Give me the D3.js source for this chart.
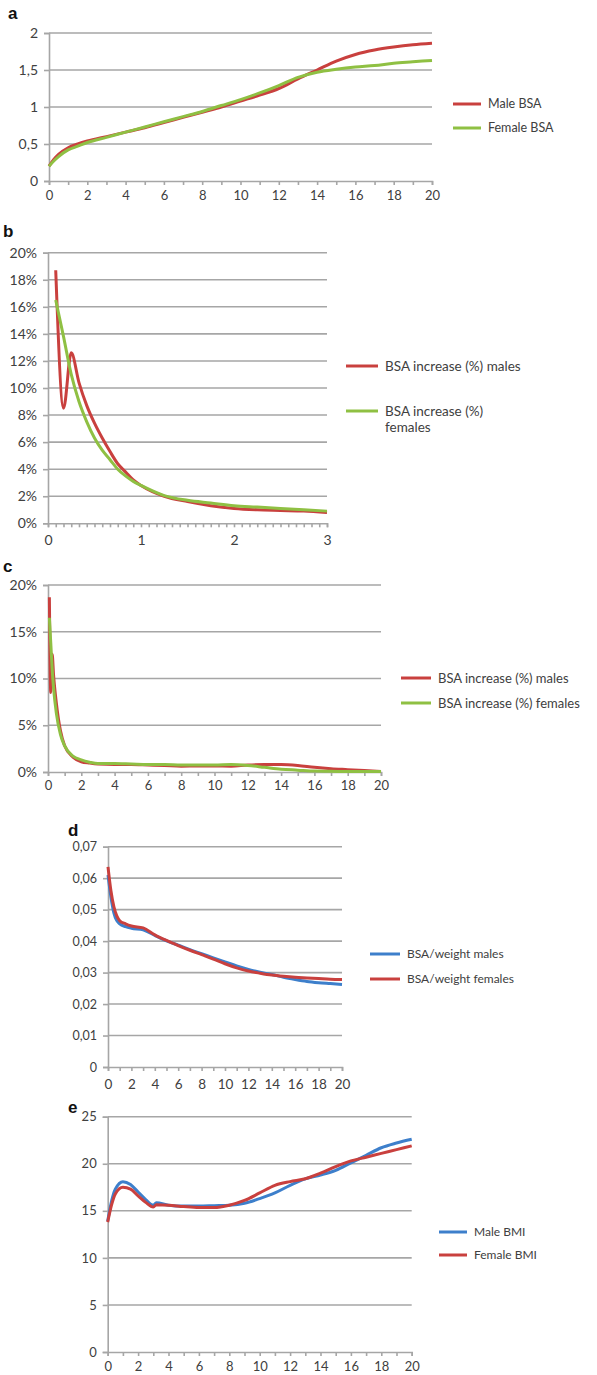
<!DOCTYPE html>
<html>
<head>
<meta charset="utf-8">
<script src="https://cdn.jsdelivr.net/npm/d3@7"></script>
<style>
  body { margin: 0; background: #fff; }
  svg { display: block; }
  text { font-family: Lato, "Open Sans", sans-serif; fill: #404040; }
</style>
</head>
<body>
<svg id="chart"></svg>
<script>
// Panel a: BSA (m2) by age
const ageA = [0, 0.25, 0.5, 1, 1.5, 2, 3, 4, 5, 6, 7, 8, 9, 10, 11, 12, 13, 14, 15, 16, 17, 18, 19, 20];
const maleBSA = [0.2, 0.29, 0.36, 0.45, 0.5, 0.54, 0.6, 0.66, 0.72, 0.79, 0.86, 0.93, 1.0, 1.08, 1.16, 1.25, 1.38, 1.5, 1.62, 1.71, 1.77, 1.81, 1.84, 1.86];
const femaleBSA = [0.2, 0.27, 0.33, 0.42, 0.47, 0.52, 0.59, 0.66, 0.73, 0.8, 0.87, 0.94, 1.02, 1.1, 1.19, 1.29, 1.4, 1.47, 1.51, 1.54, 1.56, 1.59, 1.61, 1.63];

// Panel b: BSA increase (%) during first 3 years
const ageB = [0.083, 0.167, 0.25, 0.333, 0.417, 0.5, 0.583, 0.667, 0.75, 0.833, 0.917, 1, 1.25, 1.5, 1.75, 2, 2.25, 2.5, 2.75, 3];
const incMaleB = [18.7, 8.5, 12.6, 10.4, 8.7, 7.4, 6.3, 5.3, 4.4, 3.8, 3.2, 2.8, 2.0, 1.6, 1.3, 1.1, 1.0, 0.95, 0.9, 0.8];
const incFemaleB = [16.5, 13.8, 11.0, 9.0, 7.5, 6.3, 5.4, 4.7, 4.0, 3.5, 3.1, 2.8, 2.05, 1.7, 1.5, 1.3, 1.2, 1.1, 1.0, 0.9];

// Panel c: BSA increase (%) 0-20 years
const ageC = [0.083, 0.167, 0.25, 0.333, 0.5, 0.75, 1, 1.5, 2, 2.5, 3, 4, 5, 6, 7, 8, 9, 10, 11, 12, 13, 14, 15, 16, 17, 18, 19, 20];
const incMaleC = [18.7, 8.5, 12.6, 10.4, 7.4, 4.4, 2.8, 1.6, 1.1, 0.95, 0.85, 0.8, 0.8, 0.75, 0.7, 0.62, 0.65, 0.65, 0.62, 0.75, 0.8, 0.8, 0.7, 0.5, 0.35, 0.25, 0.15, 0.05];
const incFemaleC = [16.5, 13.8, 11.0, 9.0, 6.3, 4.0, 2.8, 1.7, 1.3, 1.05, 0.9, 0.9, 0.85, 0.8, 0.8, 0.75, 0.75, 0.75, 0.8, 0.7, 0.5, 0.3, 0.2, 0.1, 0.08, 0.05, 0.05, 0.05];

// Panel d: BSA/weight
const ageD = [0, 0.25, 0.5, 0.75, 1, 1.5, 2, 3, 4, 5, 6, 7, 8, 9, 10, 11, 12, 13, 14, 15, 16, 17, 18, 19, 20];
const bswMale = [0.061, 0.054, 0.049, 0.0465, 0.0455, 0.0446, 0.0441, 0.0436, 0.0418, 0.0401, 0.0387, 0.0373, 0.036, 0.0347, 0.0334, 0.0321, 0.031, 0.0301, 0.0294, 0.0285, 0.0278, 0.0272, 0.0268, 0.0265, 0.0262];
const bswFemale = [0.0636, 0.056, 0.051, 0.048, 0.0465, 0.0455, 0.0448, 0.0442, 0.042, 0.0402, 0.0386, 0.0371, 0.0357, 0.0343, 0.0328, 0.0315, 0.0305, 0.0298, 0.0292, 0.0288, 0.0285, 0.0283, 0.0281, 0.0279, 0.0278];

// Panel e: BMI
const ageE = [0, 0.25, 0.5, 1, 1.5, 2, 2.5, 3, 3.2, 4, 5, 6, 7, 8, 9, 10, 11, 12, 13, 14, 15, 16, 17, 18, 19, 20];
const bmiMale = [13.9, 16.0, 17.3, 18.1, 17.8, 17.0, 16.2, 15.6, 15.85, 15.6, 15.5, 15.5, 15.55, 15.6, 15.8, 16.3, 16.9, 17.7, 18.4, 18.8, 19.3, 20.1, 20.9, 21.7, 22.2, 22.6];
const bmiFemale = [13.8, 15.6, 16.8, 17.5, 17.3, 16.6, 15.9, 15.4, 15.65, 15.6, 15.45, 15.35, 15.35, 15.6, 16.1, 16.9, 17.7, 18.1, 18.4, 19.0, 19.7, 20.3, 20.7, 21.1, 21.5, 21.9];

// Tick labels
const yTicksA = [0, 0.5, 1, 1.5, 2];
const yTicksB = [0, 2, 4, 6, 8, 10, 12, 14, 16, 18, 20];
const yTicksC = [0, 5, 10, 15, 20];
const yTicksD = [0, 0.01, 0.02, 0.03, 0.04, 0.05, 0.06, 0.07];
const yTicksE = [0, 5, 10, 15, 20, 25];

const RED = "#c9403e", GREEN = "#8fc043", BLUE = "#3d7fcb";
const GRID = "#a6a6a6";

const width = 597, height = 1375;
const svg = d3.select("#chart").attr("width", width).attr("height", height);

const comma = d => String(d).replace(".", ",");

function drawPanel(p) {
    const x = d3.scaleLinear().domain(p.xDomain).range([p.left, p.right]);
    const y = d3.scaleLinear().domain([p.yTicks[0], p.yTicks[p.yTicks.length - 1]]).range([p.bottom, p.top]);
    const g = svg.append("g");

    // panel letter
    g.append("text")
        .attr("x", p.letterX).attr("y", p.letterY)
        .style("font-family", "'Liberation Sans', Arial, sans-serif")
        .style("font-weight", "bold").style("font-size", "17px").style("fill", "#111")
        .text(p.letter);

    // horizontal gridlines
    g.selectAll(".grid").data(p.yTicks.slice(1)).enter().append("line")
        .attr("x1", p.left).attr("x2", p.right)
        .attr("y1", d => y(d)).attr("y2", d => y(d))
        .attr("stroke", GRID).attr("stroke-width", 1.6);

    // y axis
    const yAxis = g.append("g")
        .attr("transform", `translate(${p.left},0)`)
        .call(d3.axisLeft(y).tickValues(p.yTicks).tickFormat(p.yFormat).tickSize(5).tickPadding(6));
    yAxis.selectAll("text").style("font-size", p.yFont + "px");

    // x axis
    const xAxis = g.append("g")
        .attr("transform", `translate(0,${p.bottom})`)
        .call(d3.axisBottom(x).tickValues(p.xTicks).tickSize(4).tickPadding(p.xPad)
            .tickFormat(d => p.xLabels.some(v => Math.abs(v - d) < 1e-6) ? String(Math.round(d)) : ""));
    xAxis.selectAll("text").style("font-size", p.xFont + "px");

    g.selectAll(".domain, .tick line").attr("stroke", GRID).attr("stroke-width", 1.6);

    // series
    p.series.forEach(s => {
        const line = d3.line()
            .x((d, i) => x(p.age[i]))
            .y(d => y(d))
            .curve(d3.curveMonotoneX);
        g.append("path")
            .datum(s.values)
            .attr("fill", "none")
            .attr("stroke", s.color)
            .attr("stroke-width", 3)
            .attr("stroke-linejoin", "round")
            .attr("d", line);
    });

    // legend
    p.series.forEach((s, i) => {
        const ly = p.legend.y[i];
        g.append("line")
            .attr("x1", p.legend.x).attr("x2", p.legend.x + p.legend.len)
            .attr("y1", ly).attr("y2", ly)
            .attr("stroke", s.color).attr("stroke-width", 3);
        const t = g.append("text")
            .attr("x", p.legend.x + p.legend.len + 7)
            .attr("y", ly + p.legend.font * 0.35)
            .style("font-size", p.legend.font + "px");
        s.name.forEach((ln, k) => {
            t.append("tspan").attr("x", p.legend.x + p.legend.len + 7)
                .attr("dy", k === 0 ? 0 : "1.2em").text(ln);
        });
    });
}

drawPanel({
    letter: "a", letterX: 8, letterY: 19,
    left: 49, right: 432, top: 33, bottom: 181,
    xDomain: [0, 20], xTicks: d3.range(0, 21), xLabels: d3.range(0, 21, 2), xPad: 6,
    yTicks: yTicksA, yFormat: comma, yFont: 14, xFont: 13,
    age: ageA,
    series: [
        { name: ["Male BSA"], color: RED, values: maleBSA },
        { name: ["Female BSA"], color: GREEN, values: femaleBSA }
    ],
    legend: { x: 453, len: 28, y: [104, 128], font: 12.5 }
});

drawPanel({
    letter: "b", letterX: 3, letterY: 237,
    left: 48, right: 327, top: 252.7, bottom: 523.3,
    xDomain: [0, 3], xTicks: d3.range(0, 37).map(i => i / 12), xLabels: [0, 1, 2, 3], xPad: 8,
    yTicks: yTicksB, yFormat: d => d + "%", yFont: 14, xFont: 14,
    age: ageB,
    series: [
        { name: ["BSA increase (%) males"], color: RED, values: incMaleB },
        { name: ["BSA increase (%)", "females"], color: GREEN, values: incFemaleB }
    ],
    legend: { x: 346, len: 32, y: [366, 411], font: 13.5 }
});

drawPanel({
    letter: "c", letterX: 3, letterY: 572,
    left: 48, right: 381, top: 585, bottom: 772,
    xDomain: [0, 20], xTicks: d3.range(0, 21), xLabels: d3.range(0, 21, 2), xPad: 5,
    yTicks: yTicksC, yFormat: d => d + "%", yFont: 14, xFont: 13,
    age: ageC,
    series: [
        { name: ["BSA increase (%) males"], color: RED, values: incMaleC },
        { name: ["BSA increase (%) females"], color: GREEN, values: incFemaleC }
    ],
    legend: { x: 401, len: 30, y: [678, 703], font: 13 }
});

drawPanel({
    letter: "d", letterX: 68, letterY: 836,
    left: 108, right: 342, top: 846.7, bottom: 1067,
    xDomain: [0, 20], xTicks: d3.range(0, 21), xLabels: d3.range(0, 21, 2), xPad: 8,
    yTicks: yTicksD, yFormat: comma, yFont: 12.5, xFont: 13.5,
    age: ageD,
    series: [
        { name: ["BSA/weight males"], color: BLUE, values: bswMale },
        { name: ["BSA/weight females"], color: RED, values: bswFemale }
    ],
    legend: { x: 370, len: 30, y: [954, 979], font: 12 }
});

drawPanel({
    letter: "e", letterX: 68, letterY: 1113,
    left: 107.7, right: 411.7, top: 1116.7, bottom: 1352,
    xDomain: [0, 20], xTicks: d3.range(0, 21), xLabels: d3.range(0, 21, 2), xPad: 6,
    yTicks: yTicksE, yFormat: d => d, yFont: 13, xFont: 13,
    age: ageE,
    series: [
        { name: ["Male BMI"], color: BLUE, values: bmiMale },
        { name: ["Female BMI"], color: RED, values: bmiFemale }
    ],
    legend: { x: 439, len: 28, y: [1232, 1255], font: 12 }
});
</script>
</body>
</html>
